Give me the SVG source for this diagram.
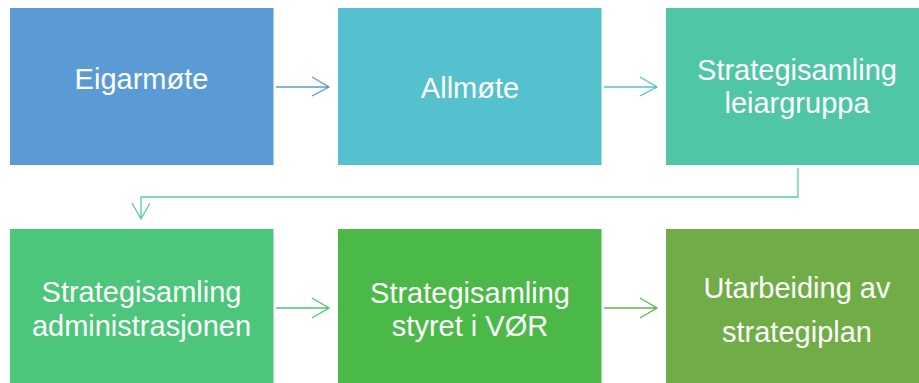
<svg xmlns="http://www.w3.org/2000/svg" width="919" height="383" viewBox="0 0 919 383">
<style>
.lbl{font-family:"Liberation Sans",Arial,sans-serif;font-size:29px;fill:#fff;text-anchor:middle}
.con{fill:none;stroke-width:1.3}
</style>
<rect width="919" height="383" fill="#fff"/>
<g id="n1"><rect x="10" y="8" width="263.5" height="157" fill="#5B9BD5"/><text class="lbl" x="141.5" y="89">Eigarmøte</text></g>
<g id="n2"><rect x="338" y="8" width="263.5" height="157" fill="#55C1CF"/><text class="lbl" x="470" y="98">Allmøte</text></g>
<g id="n3"><rect x="666" y="8" width="263.5" height="157" fill="#4FC6A6"/><text class="lbl" x="797" y="80">Strategisamling</text><text class="lbl" x="797" y="113">leiargruppa</text></g>
<g id="n4"><rect x="10" y="229" width="263.5" height="157" fill="#4BC67A"/><text class="lbl" x="141.5" y="302">Strategisamling</text><text class="lbl" x="141.5" y="336">administrasjonen</text></g>
<g id="n5"><rect x="338" y="229" width="263.5" height="157" fill="#4AB947"/><text class="lbl" x="470" y="303">Strategisamling</text><text class="lbl" x="470" y="336">styret i VØR</text></g>
<g id="n6"><rect x="666" y="229" width="263.5" height="157" fill="#70AD47"/><text class="lbl" x="797" y="298">Utarbeiding av</text><text class="lbl" x="797" y="342">strategiplan</text></g>
<g id="connectors">
<path class="con" stroke="#5B9BD5" d="M276 87H329M312 77L329 87L312 96"/>
<path class="con" stroke="#55C1CF" d="M604 87H657M640 77L657 87L640 96"/>
<path class="con" stroke="#5BCCA0" d="M798 168V197H141V219M132 203L141 219L150 203"/>
<path class="con" stroke="#4BC67A" d="M276 308H329M312 298L329 308L312 318"/>
<path class="con" stroke="#5CB847" d="M604 308H657M640 298L657 308L640 318"/>
</g>
</svg>
